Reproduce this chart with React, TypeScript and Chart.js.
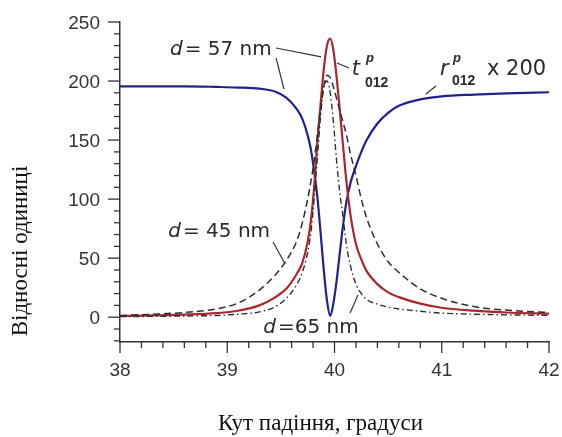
import React, { useEffect, useRef } from "react";
import { Chart, registerables } from "chart.js";

Chart.register(...registerables);

// Angle of incidence (degrees)
const ANGLE = [
  38.0, 38.3, 38.6, 38.9, 39.1, 39.3, 39.45, 39.55, 39.65, 39.7, 39.75, 39.78,
  39.81, 39.84, 39.87, 39.9, 39.93, 39.96, 39.99, 40.02, 40.05, 40.08, 40.11,
  40.15, 40.2, 40.25, 40.3, 40.4, 40.5, 40.6, 40.8, 41.0, 41.3, 41.6, 42.0,
];

// t_012^p, d = 57 nm (solid red)
const T_D57 = [
  1.0, 1.5, 2.2, 3.5, 5.5, 10, 17, 24, 37, 46, 64, 82,
  110, 148, 180, 210, 230, 236, 226, 203, 175, 145, 116,
  86, 62, 49, 39, 28, 21, 17, 11.5, 8, 5.5, 4, 3,
];

// d = 45 nm (dashed)
const T_D45 = [
  1.5, 2.5, 4, 7, 12, 23, 36, 48, 65, 80, 100, 115,
  132, 154, 176, 195, 205, 203, 195, 185, 175, 165, 155,
  138, 120, 100, 84, 62, 47, 38, 24, 16, 9, 6, 4,
];

// d = 65 nm (dash-dot)
const T_D65 = [
  0.5, 0.7, 1.0, 1.5, 2.5, 4.5, 9, 16, 28, 38, 55, 72,
  100, 135, 170, 195, 200, 190, 165, 132, 105, 85, 62,
  43, 28, 20, 15, 11, 8.5, 7, 5, 3.5, 2.5, 2, 1.5,
];

// r_012^p x 200 (blue)
const R_X200 = [
  195.5, 195.5, 195.5, 195, 194.5, 193.5, 191, 186, 176, 168, 154, 142,
  124, 102, 72, 40, 14, 1, 12, 31, 55, 78, 97,
  114, 128, 140, 150, 164, 173, 179, 184.5, 187, 188.5, 189.5, 190.5,
];

const X_MAJOR = [38, 39, 40, 41, 42];
const X_MINOR = [
  38.2, 38.4, 38.6, 38.8, 39.2, 39.4, 39.6, 39.8, 40.2, 40.4, 40.6, 40.8,
  41.2, 41.4, 41.6, 41.8,
];
const Y_MAJOR = [0, 50, 100, 150, 200, 250];
const Y_MINOR = [
  -20, -10, 10, 20, 30, 40, 60, 70, 80, 90, 110, 120, 130, 140, 160, 170, 180,
  190, 210, 220, 230, 240,
];

const X_TITLE = "Кут падіння, градуси";
const Y_TITLE = "Відносні одиниці";

const pts = (ys: number[]) => ANGLE.map((a, i) => ({ x: a, y: ys[i] }));

const SANS = '"DejaVu Sans", sans-serif';
const ARIAL = '"Liberation Sans", Arial, sans-serif';
const SERIF = '"Liberation Serif", "Times New Roman", serif';

const decor = {
  id: "decor",
  afterDraw(chart: any) {
    const { ctx, chartArea, scales } = chart;
    const xs = scales.x;
    const ys = scales.y;
    const px = (v: number) => xs.getPixelForValue(v);
    const py = (v: number) => ys.getPixelForValue(v);
    const { left, bottom } = chartArea;

    ctx.save();
    // tick marks
    ctx.strokeStyle = "#333";
    ctx.lineWidth = 1.3;
    const seg = (x1: number, y1: number, x2: number, y2: number) => {
      ctx.beginPath();
      ctx.moveTo(x1, y1);
      ctx.lineTo(x2, y2);
      ctx.stroke();
    };
    X_MAJOR.forEach((v) => seg(px(v), bottom, px(v), bottom + 11));
    X_MINOR.forEach((v) => seg(px(v), bottom, px(v), bottom + 6));
    Y_MAJOR.forEach((v) => seg(left - 12, py(v), left, py(v)));
    Y_MINOR.forEach((v) => seg(left - 6, py(v), left, py(v)));

    // tick labels
    ctx.fillStyle = "#333";
    ctx.font = `19px ${ARIAL}`;
    ctx.textBaseline = "alphabetic";
    ctx.textAlign = "center";
    X_MAJOR.forEach((v) => ctx.fillText(String(v), px(v), bottom + 34));
    ctx.textAlign = "right";
    Y_MAJOR.forEach((v) => ctx.fillText(String(v), left - 20, py(v) + 6.8));

    // leader lines
    ctx.strokeStyle = "#333";
    ctx.lineWidth = 1.2;
    const lead = (a: number, b: number, c: number, d: number) =>
      seg(px(a), py(b), px(c), py(d));
    lead(39.455, 228.0, 39.875, 220.4);
    lead(39.455, 219.6, 39.529, 193.2);
    lead(40.023, 215.3, 40.135, 211.0);
    lead(40.85, 188.8, 40.946, 195.8);
    lead(39.427, 63.7, 39.539, 45.1);
    lead(40.145, 3.6, 40.219, 18.8);

    // labels
    ctx.fillStyle = "#2a2a2a";
    ctx.textAlign = "left";
    const dLabel = (vx: number, vy: number, rest: string, gap: number) => {
      const X = px(vx);
      const Y = py(vy);
      ctx.font = `italic 20px ${SANS}`;
      ctx.fillText("d", X, Y);
      const w = ctx.measureText("d").width;
      ctx.font = `20px ${SANS}`;
      ctx.fillText(rest, X + w + gap, Y);
    };
    dLabel(38.466, 222.1, "= 57 nm", 2);
    dLabel(38.45, 67.9, "= 45 nm", 2);
    dLabel(39.336, -13.4, "=65 nm", 2);

    const sym = (
      letter: string,
      lx: number,
      ly: number,
      sx: number,
      sy: number,
      bx: number,
      by: number
    ) => {
      ctx.font = `italic 21px ${SANS}`;
      ctx.fillText(letter, px(lx), py(ly));
      ctx.font = `italic bold 13px ${ARIAL}`;
      ctx.fillText("p", px(sx), py(sy));
      ctx.font = `bold 14px ${ARIAL}`;
      ctx.fillText("012", px(bx), py(by));
    };
    sym("t", 40.162, 205.1, 40.294, 216.1, 40.284, 195.0);
    sym("r", 40.984, 205.1, 41.105, 216.1, 41.096, 196.7);
    ctx.font = `21px ${SANS}`;
    ctx.fillText("x 200", px(41.422), py(205.1));

    // axis titles
    ctx.fillStyle = "#111";
    ctx.font = `23px ${SERIF}`;
    ctx.textAlign = "center";
    ctx.fillText(X_TITLE, 320.5, 430);
    ctx.translate(27, 251);
    ctx.rotate(-Math.PI / 2);
    ctx.fillText(Y_TITLE, 0, 0);
    ctx.restore();
  },
};

export default function App() {
  const ref = useRef<HTMLCanvasElement | null>(null);

  useEffect(() => {
    if (!ref.current) return;
    const chart = new Chart(ref.current, {
      type: "line",
      data: {
        datasets: [
          {
            data: pts(T_D45),
            borderColor: "#2e2e2e",
            borderWidth: 1.5,
            borderDash: [7, 4],
            pointRadius: 0,
            cubicInterpolationMode: "monotone",
            fill: false,
          },
          {
            data: pts(T_D65),
            borderColor: "#2e2e2e",
            borderWidth: 1.4,
            borderDash: [6, 3, 1.5, 3],
            pointRadius: 0,
            cubicInterpolationMode: "monotone",
            fill: false,
          },
          {
            data: pts(T_D57),
            borderColor: "#a82832",
            borderWidth: 2.2,
            pointRadius: 0,
            cubicInterpolationMode: "monotone",
            fill: false,
          },
          {
            data: pts(R_X200),
            borderColor: "#20228c",
            borderWidth: 2.2,
            pointRadius: 0,
            cubicInterpolationMode: "monotone",
            fill: false,
          },
        ],
      },
      options: {
        animation: false,
        responsive: false,
        devicePixelRatio: 1,
        layout: { padding: { top: 22, right: 13, left: 0, bottom: 0 } },
        plugins: {
          legend: { display: false },
          tooltip: { enabled: false },
        },
        events: [],
        scales: {
          x: {
            type: "linear",
            min: 38,
            max: 42,
            grid: { display: false, drawTicks: false },
            border: { display: true, color: "#333", width: 1.5 },
            afterBuildTicks: (s: any) => {
              s.ticks = X_MAJOR.map((v) => ({ value: v }));
            },
            afterFit: (s: any) => {
              s.height = 95;
            },
            ticks: { display: false },
          },
          y: {
            type: "linear",
            min: -21,
            max: 250,
            grid: { display: false, drawTicks: false },
            border: { display: true, color: "#333", width: 1.5 },
            afterBuildTicks: (s: any) => {
              s.ticks = Y_MAJOR.map((v) => ({ value: v }));
            },
            afterFit: (s: any) => {
              s.width = 120;
            },
            ticks: { display: false },
          },
        },
      },
      plugins: [decor],
    });
    return () => chart.destroy();
  }, []);

  return (
    <div style={{ position: "absolute", left: 0, top: 0, width: 562, height: 437, background: "#fff" }}>
      <canvas ref={ref} width={562} height={437} style={{ width: 562, height: 437, display: "block" }} />
    </div>
  );
}
